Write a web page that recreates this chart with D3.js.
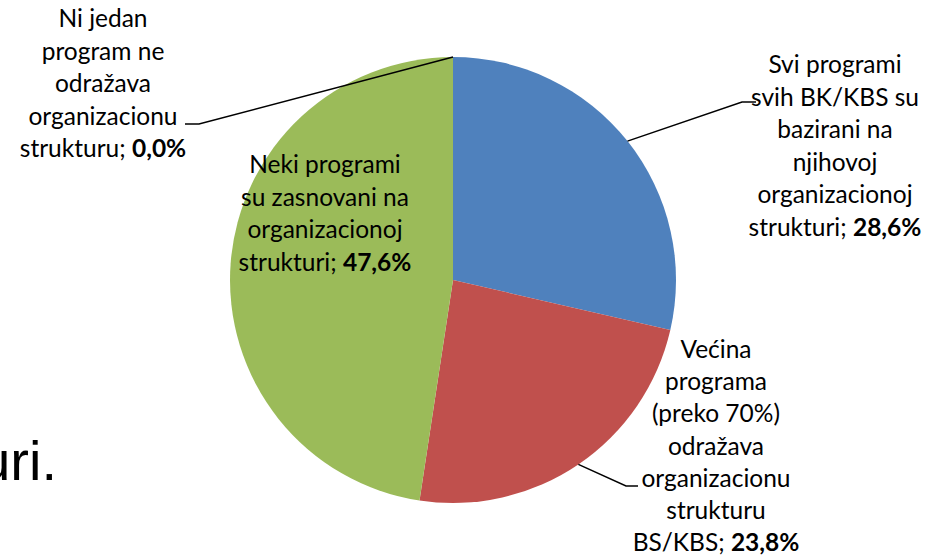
<!DOCTYPE html>
<html>
<head>
<meta charset="utf-8">
<script src="https://cdn.jsdelivr.net/npm/d3@7"></script>
<style>
  body { margin: 0; background: #fff; }
  svg text { font-family: Lato, "Open Sans", sans-serif; fill: #000; }
</style>
</head>
<body>
<div id="chart"></div>
<script>
// Data
const categories = [
    "Svi programi svih BK/KBS su bazirani na njihovoj organizacionoj strukturi",
    "Većina programa (preko 70%) odražava organizacionu strukturu BS/KBS",
    "Neki programi su zasnovani na organizacionoj strukturi",
    "Ni jedan program ne odražava organizacionu strukturu"
];
const values = [28.6, 23.8, 47.6, 0.0];
const labelLines = [
    ["Svi programi", "svih BK/KBS su", "bazirani na", "njihovoj", "organizacionoj", "strukturi; "],
    ["Većina", "programa", "(preko 70%)", "odražava", "organizacionu", "strukturu", "BS/KBS; "],
    ["Neki programi", "su zasnovani na", "organizacionoj", "strukturi; "],
    ["Ni jedan", "program ne", "odražava", "organizacionu", "strukturu; "]
];
const colors = ["#4F81BD", "#C0504D", "#9BBB59", "#8064A2"];

// Layout
const CONFIG = {
    width: 926,
    height: 557,
    cx: 453,
    cy: 280,
    radius: 223,
    fontSize: 24.5,
    lineHeight: 32.5
};
// label block centre x / first line baseline, leader bend point and end
const labelLayout = [
    { x: 835, y: 73, leader: [[742, 102], [756, 102]] },
    { x: 716, y: 358, lineHeight: 32.2, leader: [[626, 486], [638, 486]] },
    { x: 325, y: 173, leader: null },
    { x: 103, y: 27, leader: [[199, 124], [185, 124]] }
];

const svg = d3.select("#chart")
    .append("svg")
    .attr("width", CONFIG.width)
    .attr("height", CONFIG.height);

const pie = d3.pie().sort(null).value(d => d);
const arcs = pie(values);

const arc = d3.arc().innerRadius(0).outerRadius(CONFIG.radius);
const edgeArc = d3.arc().innerRadius(CONFIG.radius).outerRadius(CONFIG.radius);

const g = svg.append("g")
    .attr("transform", `translate(${CONFIG.cx},${CONFIG.cy})`);

g.selectAll("path.slice")
    .data(arcs)
    .enter()
    .append("path")
    .attr("class", "slice")
    .attr("d", arc)
    .attr("fill", (d, i) => colors[i]);

// Leader lines
arcs.forEach((d, i) => {
    const lay = labelLayout[i];
    if (!lay.leader) return;
    const start = edgeArc.centroid(d);
    const pts = [[start[0] + CONFIG.cx, start[1] + CONFIG.cy]].concat(lay.leader);
    svg.append("path")
        .attr("d", d3.line()(pts))
        .attr("fill", "none")
        .attr("stroke", "#000")
        .attr("stroke-width", 1.5);
});

// Labels
arcs.forEach((d, i) => {
    const lay = labelLayout[i];
    const lh = lay.lineHeight || CONFIG.lineHeight;
    const text = svg.append("text")
        .attr("text-anchor", "middle")
        .attr("font-size", CONFIG.fontSize);
    const lines = labelLines[i];
    lines.forEach((line, j) => {
        text.append("tspan")
            .attr("x", lay.x)
            .attr("y", lay.y + j * lh)
            .text(line);
        if (j === lines.length - 1) {
            text.append("tspan")
                .attr("font-weight", "bold")
                .text(d3.format(".1f")(values[i]).replace(".", ",") + "%");
        }
    });
});

// Cut-off slide text at the left edge
svg.append("text")
    .attr("x", 57)
    .attr("y", 480)
    .attr("text-anchor", "end")
    .attr("font-size", 56)
    .style("font-family", "'Liberation Sans', Arial, sans-serif")
    .text("uri.");
</script>
</body>
</html>
